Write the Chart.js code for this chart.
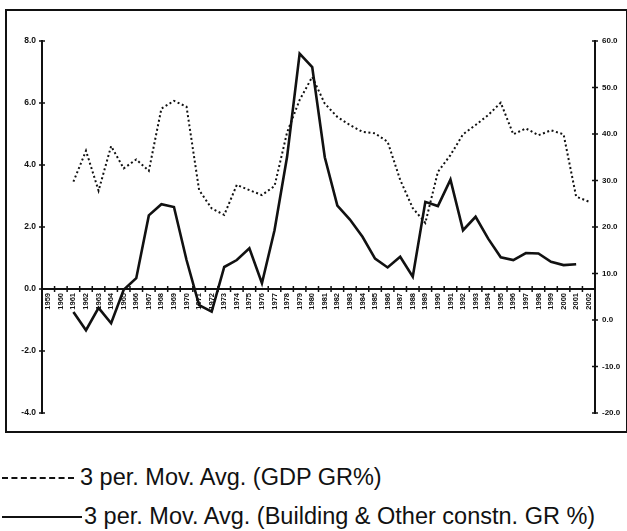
<!DOCTYPE html>
<html>
<head>
<meta charset="utf-8">
<script src="https://cdn.jsdelivr.net/npm/chart.js@4.4.1/dist/chart.umd.min.js"></script>
<style>
    html, body { margin: 0; padding: 0; background: #fff; }
    body { width: 627px; height: 531px; position: relative; overflow: hidden; font-family: "Liberation Sans", Arial, sans-serif; }
    #frame { position: absolute; left: 5px; top: 9px; width: 619px; height: 420px; border: 2px solid #111; }
    #wrap { position: absolute; left: 0; top: 0; width: 627px; height: 440px; }
    .leg { position: absolute; left: 2px; display: flex; align-items: center; font-size: 23.5px; color: #111; white-space: nowrap; }
    .leg .sample { display: inline-block; margin-right: 6px; }
    .leg.dash .sample { width: 72px; border-top: 2px dashed #111; }
    .leg.solid .sample { width: 80px; border-top: 2.5px solid #111; margin-right: 2px; }
</style>
</head>
<body>
<div id="frame"></div>
<div id="wrap"><canvas id="chart" width="627" height="440"></canvas></div>
<div class="leg dash" style="top:464px"><span class="sample"></span>3 per. Mov. Avg. (GDP GR%)</div>
<div class="leg solid" style="top:503px"><span class="sample"></span>3 per. Mov. Avg. (Building &amp; Other constn. GR %)</div>

<script>
// Categories
const YEARS = ['1959', '1960', '1961', '1962', '1963', '1964', '1965', '1966', '1967', '1968',
    '1969', '1970', '1971', '1972', '1973', '1974', '1975', '1976', '1977', '1978',
    '1979', '1980', '1981', '1982', '1983', '1984', '1985', '1986', '1987', '1988',
    '1989', '1990', '1991', '1992', '1993', '1994', '1995', '1996', '1997', '1998',
    '1999', '2000', '2001', '2002'];

// 3 per. moving avg, GDP growth % (left axis)
const GDP_MA = [null, null, 3.46, 4.46, 3.17, 4.61, 3.89, 4.18, 3.81, 5.82,
    6.07, 5.88, 3.19, 2.60, 2.39, 3.36, 3.19, 3.03, 3.32, 5.05,
    6.10, 6.84, 5.98, 5.55, 5.29, 5.07, 5.02, 4.75, 3.52, 2.61,
    2.13, 3.78, 4.32, 4.99, 5.29, 5.61, 6.01, 4.99, 5.18, 4.96,
    5.12, 4.99, 2.98, 2.82];

// 3 per. moving avg, building & other construction growth % (right axis)
const CONSTR_MA = [null, null, 1.7, -2.2, 2.6, -0.7, 6.5, 9.0, 22.5, 24.9,
    24.3, 12.9, 3.2, 1.8, 11.4, 12.9, 15.4, 7.9, 19.3, 35.1,
    57.3, 54.4, 35.0, 24.6, 21.6, 17.9, 13.2, 11.3, 13.6, 9.3,
    25.4, 24.5, 30.2, 19.3, 22.2, 17.5, 13.5, 12.9, 14.4, 14.3,
    12.5, 11.8, 12.0, null];

// Axis ranges / tick steps
const LEFT_AXIS = { min: -4, max: 8, step: 2 };
const RIGHT_AXIS = { min: -20, max: 60, step: 10 };

const INK = '#111';
const TICK = 3;

// Excel-style tick marks that cross the axis line
const crossTicks = {
    id: 'crossTicks',
    afterDraw(chart) {
        const ctx = chart.ctx;
        const { x, y, y1 } = chart.scales;
        ctx.save();
        ctx.strokeStyle = INK;
        ctx.lineWidth = 1.5;
        ctx.beginPath();
        [y, y1].forEach(s => {
            const ax = s === y ? s.right : s.left;
            s.ticks.forEach(t => {
                const py = s.getPixelForValue(t.value);
                ctx.moveTo(ax - TICK, py);
                ctx.lineTo(ax + TICK, py);
            });
        });
        const zero = y.getPixelForValue(0);
        const w = (x.right - x.left) / YEARS.length;
        for (let i = 1; i <= YEARS.length; i++) {
            const px = x.left + i * w;
            ctx.moveTo(px, zero - TICK);
            ctx.lineTo(px, zero + TICK);
        }
        ctx.stroke();
        ctx.restore();
    }
};

function init() {
    const ctx = document.getElementById('chart').getContext('2d');
    new Chart(ctx, {
        type: 'line',
        data: {
            labels: YEARS,
            datasets: [{
                label: '3 per. Mov. Avg. (GDP GR%)',
                data: GDP_MA,
                yAxisID: 'y',
                borderColor: INK,
                borderWidth: 2,
                borderDash: [2, 2.6],
                pointRadius: 0,
                tension: 0,
                fill: false
            }, {
                label: '3 per. Mov. Avg. (Building & Other constn. GR %)',
                data: CONSTR_MA,
                yAxisID: 'y1',
                borderColor: INK,
                borderWidth: 2.6,
                pointRadius: 0,
                tension: 0,
                fill: false
            }]
        },
        options: {
            responsive: false,
            animation: false,
            devicePixelRatio: 1,
            layout: { padding: { left: 0, right: 0, top: 41, bottom: 27 } },
            plugins: { legend: { display: false }, tooltip: { enabled: false } },
            scales: {
                x: {
                    type: 'category',
                    position: { y: 0 },
                    offset: true,
                    grid: { display: true, drawOnChartArea: false, drawTicks: false, offset: true },
                    border: { display: true, color: INK, width: 2 },
                    ticks: {
                        autoSkip: false,
                        minRotation: 90,
                        maxRotation: 90,
                        padding: 4,
                        color: INK,
                        font: { family: 'Liberation Sans', size: 7.5, weight: 'bold' }
                    }
                },
                y: {
                    position: 'left',
                    min: LEFT_AXIS.min,
                    max: LEFT_AXIS.max,
                    afterFit: s => { s.width = 42; },
                    grid: { drawOnChartArea: false, drawTicks: false },
                    border: { display: true, color: INK, width: 2 },
                    ticks: {
                        stepSize: LEFT_AXIS.step,
                        padding: 6,
                        color: INK,
                        font: { family: 'Liberation Sans', size: 8.5, weight: 'bold' },
                        callback: v => v.toFixed(1)
                    }
                },
                y1: {
                    position: 'right',
                    min: RIGHT_AXIS.min,
                    max: RIGHT_AXIS.max,
                    afterFit: s => { s.width = 32; },
                    grid: { drawOnChartArea: false, drawTicks: false },
                    border: { display: true, color: INK, width: 2 },
                    ticks: {
                        stepSize: RIGHT_AXIS.step,
                        padding: 7,
                        color: INK,
                        font: { family: 'Liberation Sans', size: 8, weight: 'bold' },
                        callback: v => v.toFixed(1)
                    }
                }
            }
        },
        plugins: [crossTicks]
    });
}

window.addEventListener('DOMContentLoaded', init);
</script>
</body>
</html>
